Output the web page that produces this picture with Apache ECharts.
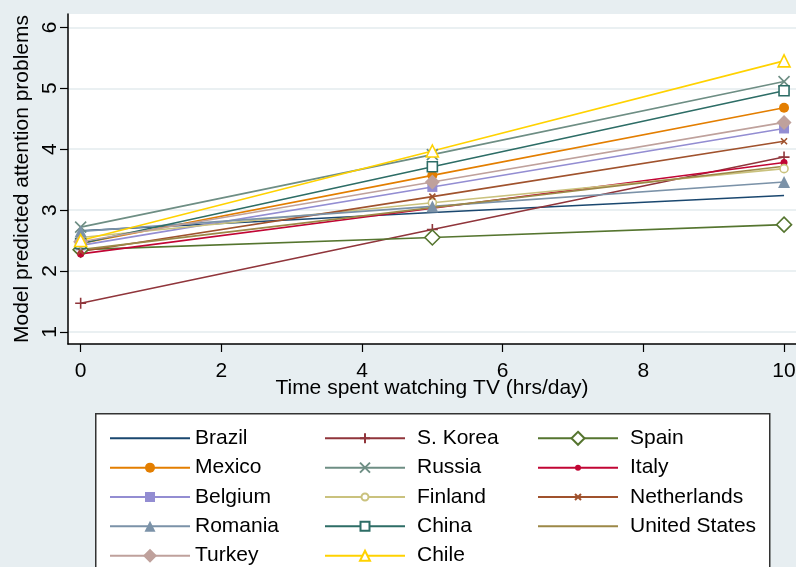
<!DOCTYPE html>
<html>
<head>
<meta charset="utf-8">
<script src="https://cdn.jsdelivr.net/npm/echarts@6/dist/echarts.min.js"></script>
<style>
  html, body { margin: 0; padding: 0; background: #e7eef1; }
  #chart { width: 796px; height: 567px; }
</style>
</head>
<body>
<div id="chart"></div>
<script>
// hours of TV (x positions of the predictions)
const hours = [0, 5, 10];
const yTicks = [1, 2, 3, 4, 5, 6];
const xTicks = [0, 2, 4, 6, 8, 10];

// predicted attention problems at 0, 5, 10 hrs/day
const brazil = [2.66, 2.96, 3.24];
const sKorea = [1.47, 2.68, 3.87];
const spain = [2.35, 2.55, 2.76];
const mexico = [2.45, 3.57, 4.68];
const russia = [2.72, 3.91, 5.11];
const italy = [2.28, 3.03, 3.78];
const belgium = [2.42, 3.38, 4.34];
const finland = [2.55, 3.12, 3.68];
const netherlands = [2.32, 3.22, 4.13];
const romania = [2.65, 3.06, 3.46];
const china = [2.45, 3.71, 4.96];
const unitedStates = [2.35, 3.04, 3.72];
const turkey = [2.48, 3.46, 4.44];
const chile = [2.50, 3.97, 5.45];

const FONT = "Liberation Sans, Arial, sans-serif";
const X_PATH = "path://M0,0L10,10M0,10L10,0";
const PLUS_PATH = "path://M5,0L5,10M0,5L10,5";

const toPoints = (vals) => vals.map((v, i) => [hours[i], v]);

// name, values, color, symbol, plot size, legend size, hollow  (legend order: row by row)
const countries = [
  ["Brazil", brazil, "#1a476f", "none", 0, 0, false],
  ["S. Korea", sKorea, "#90353b", PLUS_PATH, 11, 10, "stroke"],
  ["Spain", spain, "#55752f", "diamond", 15, 13, true],
  ["Mexico", mexico, "#e37e00", "circle", 10, 10, false],
  ["Russia", russia, "#6e8e84", X_PATH, 11, 10, "stroke"],
  ["Italy", italy, "#c10534", "circle", 7, 6, false],
  ["Belgium", belgium, "#938dd2", "rect", 10, 10, false],
  ["Finland", finland, "#cac27e", "circle", 8, 7, true],
  ["Netherlands", netherlands, "#a0522d", X_PATH, 6, 6, "stroke"],
  ["Romania", romania, "#7b92a8", "triangle", 12, 11, false],
  ["China", china, "#2d6d66", "rect", 10, 9, true],
  ["United States", unitedStates, "#9c8847", "none", 0, 0, false],
  ["Turkey", turkey, "#bfa19c", "diamond", 15, 14, false],
  ["Chile", chile, "#ffd200", "triangle", 12, 10, true]
];

const series = countries.map(([name, vals, color, symbol, size, lsize, hollow]) => {
  let itemStyle = { color: color };
  if (hollow === true) itemStyle = { color: "#fff", borderColor: color, borderWidth: 1.6 };
  if (hollow === "stroke") itemStyle = { color: "none", borderColor: color, borderWidth: 1.6 };
  return {
    name: name,
    type: "line",
    data: toPoints(vals),
    symbol: symbol,
    symbolSize: size,
    showSymbol: symbol !== "none",
    lineStyle: { color: color, width: 1.6 },
    itemStyle: itemStyle,
    color: color,
    animation: false,
    z: 3
  };
});

// one legend per entry so each symbol keeps its own size
const colLeft = [104, 319, 532];
const colPad = [0, 7, 7];
const legends = countries.map(([name, vals, color, symbol, size, lsize], i) => {
  const col = i % 3;
  const row = Math.floor(i / 3);
  const h = lsize > 0 ? lsize / 0.8 : 14;
  const item = { name: name };
  if (symbol === "none") item.itemStyle = { opacity: 0 };
  return {
    orient: "vertical",
    left: colLeft[col],
    top: 433.3 + row * 29.35 - 11,
    height: 60,
    itemWidth: 80,
    itemHeight: h,
    selectedMode: false,
    data: [item],
    textStyle: { fontSize: 21, fontFamily: FONT, color: "#000", lineHeight: 22, padding: [0, 0, 0, colPad[col]] }
  };
});

const chart = echarts.init(document.getElementById("chart"));
chart.setOption({
  backgroundColor: "#e7eef1",
  animation: false,
  grid: {
    left: 68, right: 0, top: 14, bottom: 223,
    outerBoundsMode: "none",
    containLabel: false,
    show: true, backgroundColor: "#fff", borderWidth: 0
  },
  xAxis: {
    type: "value",
    min: -0.18,
    max: 10.17,
    name: "Time spent watching TV (hrs/day)",
    nameLocation: "middle",
    nameGap: 34,
    nameMoveOverlap: false,
    nameTextStyle: { fontSize: 21, fontFamily: FONT, color: "#000" },
    axisLine: { onZero: false, lineStyle: { color: "#000", width: 1.5 } },
    axisTick: { show: true, length: 8, customValues: xTicks, lineStyle: { color: "#000", width: 1.2 } },
    axisLabel: { customValues: xTicks, fontSize: 21, fontFamily: FONT, color: "#000", margin: 17, hideOverlap: false },
    splitLine: { show: false }
  },
  yAxis: {
    type: "value",
    min: 0.8,
    max: 6.22,
    name: "Model predicted attention problems",
    nameLocation: "middle",
    nameGap: 35,
    nameMoveOverlap: false,
    nameTextStyle: { fontSize: 21, fontFamily: FONT, color: "#000" },
    axisLine: { show: true, onZero: false, lineStyle: { color: "#000", width: 1.5 } },
    axisTick: { show: true, length: 8, customValues: yTicks, lineStyle: { color: "#000", width: 1.2 } },
    axisLabel: { customValues: yTicks, rotate: 90, fontSize: 21, fontFamily: FONT, color: "#000", margin: 7 },
    splitLine: { show: true, lineStyle: { color: "#e3ebee", width: 1.5 } }
  },
  legend: legends,
  graphic: [{
    type: "rect",
    left: 95, top: 413, z: -1,
    shape: { width: 674, height: 200 },
    style: { fill: "#fff", stroke: "#333", lineWidth: 1.5 }
  }],
  series: series
});
</script>
</body>
</html>
